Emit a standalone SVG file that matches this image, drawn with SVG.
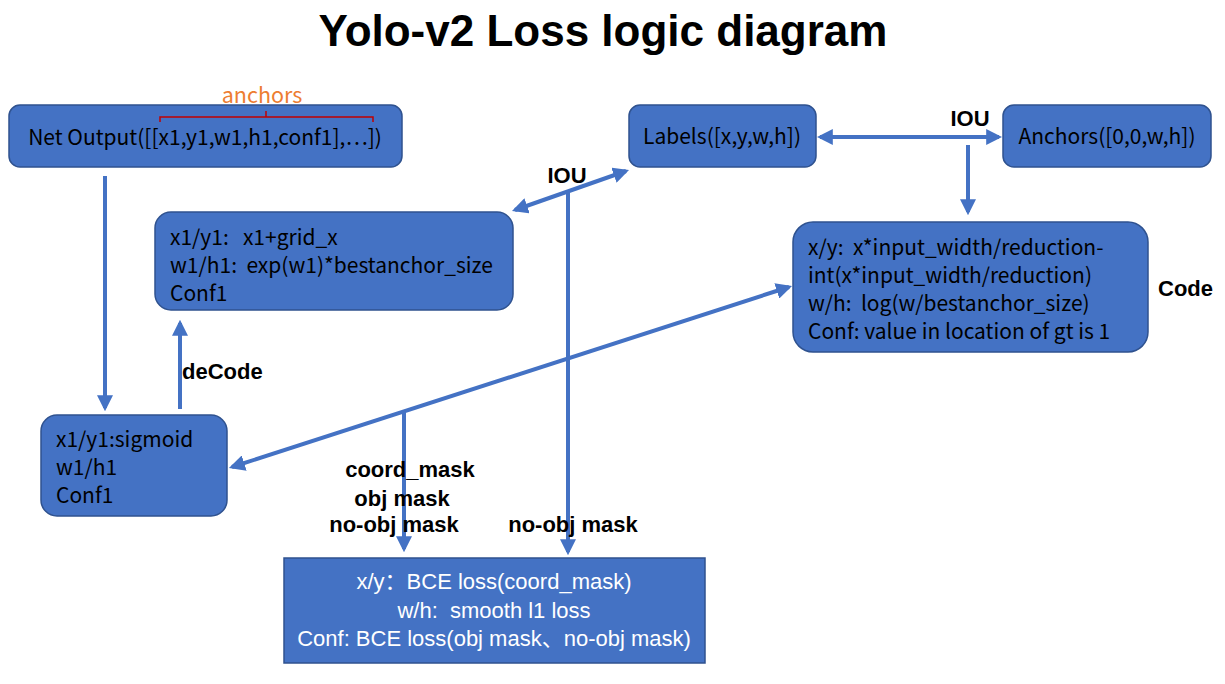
<svg xmlns="http://www.w3.org/2000/svg" width="1225" height="684" viewBox="0 0 1225 684">
<defs>
<style>
.box{fill:#4472C4;stroke:#2F528F;stroke-width:1.5}
.t{font-family:"Noto Sans CJK SC","Noto Sans",sans-serif;font-size:21px;fill:#000;white-space:pre}
.w{fill:#fff;font-family:"Liberation Sans","Noto Sans CJK SC",sans-serif;font-size:22px}
.lbl{font-family:"Liberation Sans",Arial,sans-serif;font-size:22px;font-weight:bold;fill:#000}
.c{stroke:#4472C4;stroke-width:4;fill:none}
</style>
<marker id="ah" viewBox="0 0 10 10" refX="8" refY="5" markerWidth="4" markerHeight="4" orient="auto-start-reverse" markerUnits="strokeWidth">
<path d="M0,0 L10,5 L0,10 z" fill="#4472C4"/>
</marker>
</defs>
<rect width="1225" height="684" fill="#fff"/>
<text x="603" y="46" text-anchor="middle" style="font-family:'Liberation Sans',Arial,sans-serif;font-size:44px;font-weight:bold">Yolo-v2 Loss logic diagram</text>

<g id="connectors">
<line class="c" x1="105" y1="176" x2="105" y2="408" marker-end="url(#ah)"/>
<line class="c" x1="180" y1="409" x2="180" y2="323" marker-end="url(#ah)"/>
<line class="c" x1="515" y1="210" x2="626" y2="171" marker-start="url(#ah)" marker-end="url(#ah)"/>
<line class="c" x1="568" y1="191" x2="568" y2="552" marker-end="url(#ah)"/>
<line class="c" x1="820" y1="137" x2="999" y2="137" marker-start="url(#ah)" marker-end="url(#ah)"/>
<line class="c" x1="968" y1="145" x2="968" y2="212" marker-end="url(#ah)"/>
<line class="c" x1="232" y1="467" x2="789" y2="287" marker-start="url(#ah)" marker-end="url(#ah)"/>
<line class="c" x1="404" y1="412" x2="404" y2="549" marker-end="url(#ah)"/>
<text class="lbl" x="970" y="126" text-anchor="middle">IOU</text>
<text class="lbl" x="567" y="183" text-anchor="middle">IOU</text>
<text class="lbl" x="182" y="379">deCode</text>
<text class="lbl" x="1158" y="296">Code</text>
<text class="lbl" x="410" y="477" text-anchor="middle">coord_mask</text>
<text class="lbl" x="402" y="506" text-anchor="middle">obj mask</text>
<text class="lbl" x="394" y="532" text-anchor="middle">no-obj mask</text>
<text class="lbl" x="573" y="532" text-anchor="middle">no-obj mask</text>
</g>

<g id="net-output">
<rect class="box" x="9" y="105" width="393" height="62" rx="11"/>
<text class="t" x="205" y="145" text-anchor="middle">Net Output([[x1,y1,w1,h1,conf1],⋯])</text>
<path d="M160,122 V117 H373 V122 M266,117 V111" stroke="#C00000" stroke-width="1.5" fill="none"/>
<text x="262" y="103" text-anchor="middle" style="font-family:'Noto Sans CJK SC','Noto Sans',sans-serif;font-size:21.5px;fill:#ED7D31">anchors</text>
</g>

<g id="labels">
<rect class="box" x="629" y="105" width="187" height="62" rx="11"/>
<text class="t" x="722" y="144" text-anchor="middle">Labels([x,y,w,h])</text>
</g>

<g id="anchors">
<rect class="box" x="1003" y="105" width="208" height="62" rx="11"/>
<text class="t" x="1107" y="144" text-anchor="middle">Anchors([0,0,w,h])</text>
</g>

<g id="decode">
<rect class="box" x="155" y="212" width="358" height="98" rx="16"/>
<text class="t" x="170" y="245">x1/y1:   x1+grid_x</text>
<text class="t" x="170" y="273">w1/h1:  exp(w1)*bestanchor_size</text>
<text class="t" x="170" y="301">Conf1</text>
</g>

<g id="code">
<rect class="box" x="793" y="222" width="355" height="130" rx="20"/>
<text class="t" x="808" y="255">x/y:  x*input_width/reduction-</text>
<text class="t" x="808" y="283">int(x*input_width/reduction)</text>
<text class="t" x="808" y="311">w/h:  log(w/bestanchor_size)</text>
<text class="t" x="808" y="339">Conf: value in location of gt is 1</text>
</g>

<g id="sigmoid">
<rect class="box" x="41" y="415" width="186" height="101" rx="16"/>
<text class="t" x="56" y="447">x1/y1:sigmoid</text>
<text class="t" x="56" y="475">w1/h1</text>
<text class="t" x="56" y="503">Conf1</text>
</g>

<g id="loss">
<rect class="box" x="284" y="558" width="421" height="105"/>
<text class="t w" x="494" y="589" text-anchor="middle">x/y：BCE loss(coord_mask)</text>
<text class="t w" x="494" y="618" text-anchor="middle">w/h:  smooth l1 loss</text>
<text class="t w" x="494" y="646" text-anchor="middle">Conf: BCE loss(obj mask、no-obj mask)</text>
</g>
</svg>
